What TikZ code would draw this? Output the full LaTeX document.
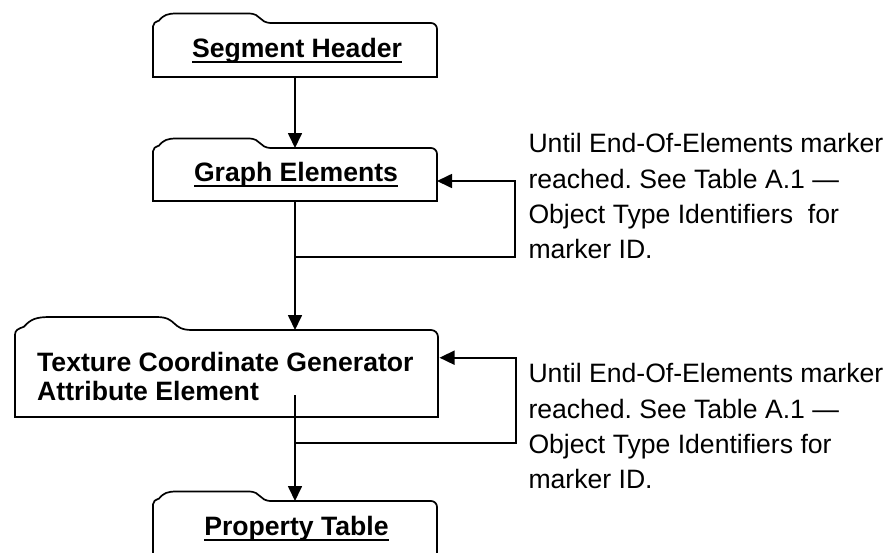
\documentclass[tikz,border=0pt]{standalone}
\usepackage{fontspec}
\setmainfont{Liberation Sans}
\usetikzlibrary{arrows.meta,calc}
\frenchspacing

% bold text with a fixed-offset underline
\newcommand\ulbold[1]{\setbox0\hbox{\bfseries #1}\rlap{\rule[-5.5pt]{\wd0}{2pt}}\box0}

% card outline around an empty node: #1 node, #2 tab width, #3 tab height, #4 corner radius
\newcommand\cardoutline[4]{%
  \draw[cardline] let \p1=(#1.north west), \p2=(#1.south east) in
    (\x1,\y2) -- (\x1,\y1-0.35*#3pt)
    .. controls (\x1,\y1) and (\x1+0.02*#2pt,\y1+0.1*#3pt) .. (\x1+0.05*#2pt,\y1+0.25*#3pt)
    .. controls (\x1+0.09*#2pt,\y1+0.85*#3pt) and (\x1+0.12*#2pt,\y1+#3pt) .. (\x1+0.2*#2pt,\y1+#3pt)
    -- (\x1+0.8*#2pt,\y1+#3pt)
    .. controls (\x1+0.92*#2pt,\y1+#3pt) and (\x1+0.88*#2pt,\y1) .. (\x1+#2pt,\y1)
    -- (\x2-#4pt,\y1) to[out=0,in=90] (\x2,\y1-#4pt)
    -- (\x2,\y2) -- cycle;}

\tikzset{
  cardarea/.style={rectangle, inner sep=0pt, outer sep=0pt},
  cardline/.style={line width=1.7pt, black},
  flow/.style={line width=1.7pt, -{Triangle[length=15pt,width=14pt]}},
  boxtext/.style={inner sep=0pt, font=\fontsize{26.6pt}{30pt}\selectfont},
  note/.style={inner sep=0pt, anchor=base west, font=\fontsize{26.6pt}{35.5pt}\selectfont},
}

\begin{document}
\begin{tikzpicture}[x=1pt,y=1pt]
\useasboundingbox (0,0) rectangle (888,-552);
\clip (0,0) rectangle (888,-552);

% box areas
\node[cardarea, minimum width=284pt, minimum height=54pt] (seg)   at (295,-50)    {};
\node[cardarea, minimum width=284pt, minimum height=53pt] (graph) at (295,-174.5) {};
\node[cardarea, minimum width=423pt, minimum height=87pt] (tex)   at (226.5,-373.5) {};
\node[cardarea, minimum width=284pt, minimum height=64pt] (prop)  at (295,-533)   {};

\cardoutline{seg}{119}{9.5}{6}
\cardoutline{graph}{119}{9.5}{6}
\cardoutline{tex}{177}{13}{7}
\cardoutline{prop}{119}{9.5}{6}

% box labels
\node[boxtext, anchor=base] (segtxt)   at (297,-57.3)   {\ulbold{Segment Header}};
\node[boxtext, anchor=base] (graphtxt) at (296,-181.7)  {\ulbold{Graph Elements}};
\node[boxtext, anchor=base west, font=\fontsize{26.6pt}{30pt}\selectfont\bfseries] (texa) at (37,-371)   {Texture Coordinate Generator};
\node[boxtext, anchor=base west, font=\fontsize{26.6pt}{30pt}\selectfont\bfseries] (texb) at (37,-400.5) {Attribute Element};
\node[boxtext, anchor=base] (proptxt)  at (296.5,-535.3) {\ulbold{Property Table}};

% main flow
\draw[flow] (seg.south) -- (graph.north);
\draw[flow] (graph.south) -- (graph.south |- tex.north);
\coordinate (texout) at (295,-395);
\draw[flow] (texout) -- (prop.north);

% repeat loops
\coordinate (joinA) at (295,-257);
\coordinate (turnA) at (515,-181);
\draw[flow] (joinA) -| (turnA) -- (graph.east |- turnA);

\coordinate (joinB) at (295,-443);
\coordinate (turnB) at (516,-357.7);
\draw[flow] (joinB) -| (turnB) -- ([xshift=1.5pt]tex.east |- turnB);

% loop notes
\foreach \t [count=\i] in {Until End-Of-Elements marker,reached. See Table A.1 —,Object Type Identifiers\ \ for,marker ID.}
  \node[note] (noteA\i) at (528.3,-152.7-35.3*\i+35.3) {\t};
\foreach \t [count=\i] in {Until End-Of-Elements marker,reached. See Table A.1 —,Object Type Identifiers for,marker ID.}
  \node[note] (noteB\i) at (528.3,-382.7-35.3*\i+35.3) {\t};
\end{tikzpicture}
\end{document}
